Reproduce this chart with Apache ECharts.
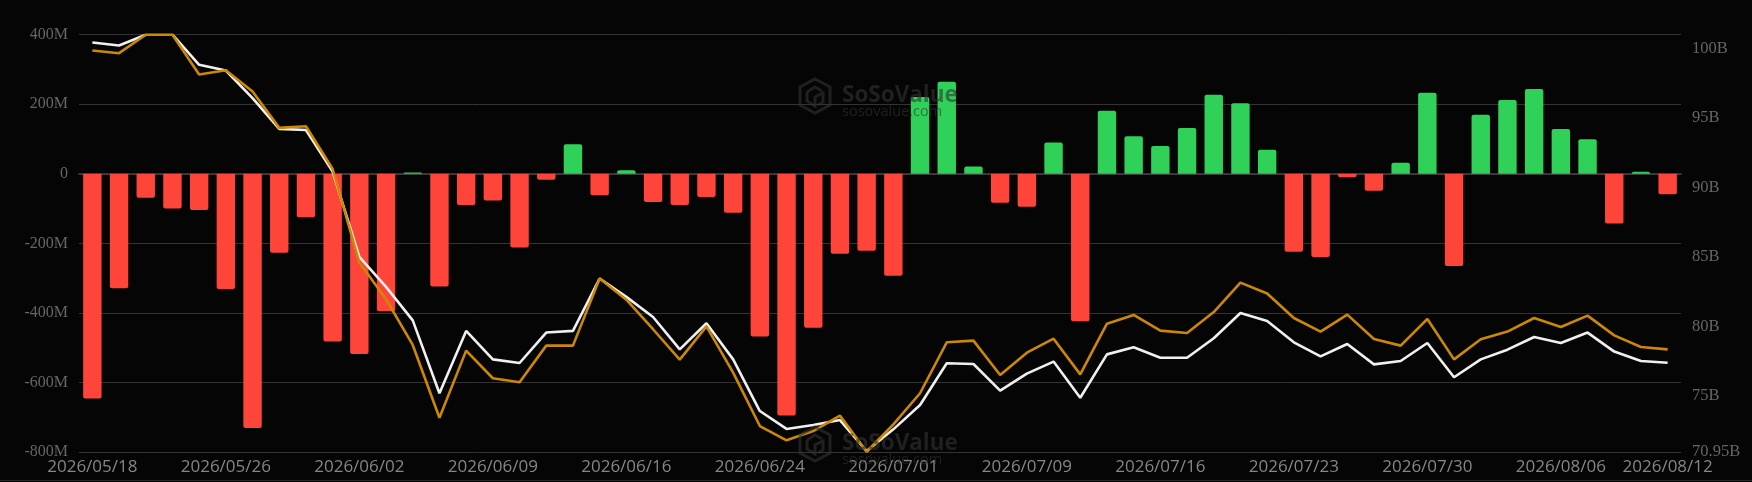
<!DOCTYPE html>
<html><head><meta charset="utf-8">
<style>html,body{margin:0;padding:0;background:#050505}#c{width:1752px;height:482px}</style>
<script src="https://cdn.jsdelivr.net/npm/echarts@6/dist/echarts.min.js"></script>
</head><body><div id="c"></div>
<script>
const dates = ["2026/05/18","2026/05/19","2026/05/20","2026/05/21","2026/05/22","2026/05/26","2026/05/27","2026/05/28","2026/05/29","2026/06/01","2026/06/02","2026/06/03","2026/06/04","2026/06/05","2026/06/08","2026/06/09","2026/06/10","2026/06/11","2026/06/12","2026/06/15","2026/06/16","2026/06/17","2026/06/18","2026/06/22","2026/06/23","2026/06/24","2026/06/25","2026/06/26","2026/06/29","2026/06/30","2026/07/01","2026/07/02","2026/07/06","2026/07/07","2026/07/08","2026/07/09","2026/07/10","2026/07/13","2026/07/14","2026/07/15","2026/07/16","2026/07/17","2026/07/20","2026/07/21","2026/07/22","2026/07/23","2026/07/24","2026/07/27","2026/07/28","2026/07/29","2026/07/30","2026/07/31","2026/08/03","2026/08/04","2026/08/05","2026/08/06","2026/08/07","2026/08/10","2026/08/11","2026/08/12"];
const flows = [-646,-329,-69,-100,-104,-331,-731,-227,-125,-482,-518,-395,4,-324,-90,-77,-212,-17,85,-62,10,-81,-90,-67,-112,-468,-695,-443,-230,-221,-293,221,265,21,-83,-95,90,-424,181,108,80,132,227,203,69,-224,-239,-10,-49,32,233,-265,170,212,244,129,99,-143,6,-59];
const whiteLine = [100.44,100.22,101,101,98.83,98.42,96.43,94.22,94.14,91.14,85.0,82.84,80.43,75.18,79.67,77.62,77.36,79.55,79.67,83.44,82.12,80.67,78.34,80.22,77.62,73.90,72.61,72.89,73.25,71.02,72.58,74.33,77.34,77.29,75.37,76.59,77.46,74.86,77.98,78.49,77.74,77.74,79.14,80.96,80.39,78.85,77.84,78.73,77.26,77.50,78.80,76.33,77.62,78.32,79.23,78.80,79.55,78.18,77.50,77.38];
const orangeLine = [99.86,99.67,101,101,98.13,98.44,96.91,94.29,94.41,91.33,84.59,81.95,78.66,73.42,78.25,76.26,75.97,78.61,78.61,83.44,81.92,79.79,77.60,80.00,76.66,72.82,71.79,72.46,73.57,70.97,72.94,75.18,78.85,78.97,76.50,78.10,79.11,76.54,80.19,80.82,79.69,79.52,81.03,83.15,82.36,80.60,79.62,80.84,79.09,78.61,80.53,77.62,79.07,79.62,80.60,79.95,80.77,79.35,78.51,78.34];
const rightTicks = [70.95,75,80,85,90,95,100];
const RED = "#ff453a", GREEN = "#30d158";

function watermark(cx, cy) {
  const col = "rgba(50,50,50,0.6)";
  const s = 15;
  const hex = [[0,-17],[s,-9],[s,9],[0,17],[-s,9],[-s,-9]];
  const line = (pts) => ({type:"polyline", z:50, silent:true, shape:{points:pts.map(p=>[cx+p[0],cy+p[1]])}, style:{fill:"transparent",stroke:col,lineWidth:3}});
  return [
    {type:"polygon", z:50, silent:true, shape:{points:hex.map(p=>[cx+p[0],cy+p[1]])}, style:{fill:"transparent",stroke:col,lineWidth:3}},
    line([[-8,-4],[0,-9],[7,-5]]),
    line([[-8,-4],[-8,5],[0,10],[0,1],[8,-3],[8,6],[3,9]]),
    {type:"text", z:50, silent:true, x:cx+27, y:cy, style:{text:"SoSoValue",fill:col,font:"bold 22.5px 'Open Sans'",textVerticalAlign:"middle"}},
    {type:"text", z:50, silent:true, x:cx+27, y:cy+16, style:{text:"sosovalue.com",fill:"rgba(50,50,50,0.6)",font:"14.5px 'Open Sans'",textVerticalAlign:"middle"}}
  ];
}

const chart = echarts.init(document.getElementById("c"), null, {renderer:"canvas"});
chart.setOption({
  animation:false,
  backgroundColor:"#050505",
  grid:{left:79,right:71,top:34.7,bottom:30,containLabel:false},
  graphic:{elements:[
    ...watermark(815,96),...watermark(815,444),
    {type:"rect", silent:true, z:1, shape:{x:0,y:480,width:1752,height:1}, style:{fill:"#262626"}}
  ]},
  xAxis:{
    type:"category",data:dates,boundaryGap:true,
    axisLine:{show:true,onZero:true,lineStyle:{color:"#444",width:1.5}},
    axisTick:{show:false},
    axisLabel:{color:"#868686",fontFamily:"'Open Sans'",fontSize:17,margin:7,hideOverlap:false,
      interval:(i)=>i%5===0||i===dates.length-1,
      showMinLabel:true,showMaxLabel:true,
      formatter:v=>v}
  },
  yAxis:[
    {type:"value",min:-800,max:400,interval:200,position:"left",
      axisLine:{show:false},axisTick:{show:false},
      splitLine:{lineStyle:{color:"#333",width:1}},
      axisLabel:{color:"#666",fontFamily:"'Liberation Serif'",fontSize:16,margin:11,
        formatter:v=>v===0?"0":v+"M"}},
    {type:"value",min:70.95,max:101,position:"right",scale:true,
      axisLine:{show:false},axisTick:{show:false},splitLine:{show:false},
      axisLabel:{color:"#666",fontFamily:"'Liberation Serif'",fontSize:16.5,margin:11,
        customValues:rightTicks,formatter:v=>v+"B"}}
  ],
  series:[
    {type:"bar",yAxisIndex:0,barWidth:18.4,z:2,
     data:flows.map(v=>({value:v,itemStyle:{color:v>=0?GREEN:RED,borderRadius:v>=0?[2,2,0,0]:[0,0,2,2]}}))},
    {type:"line",yAxisIndex:1,data:whiteLine,symbol:"none",z:3,lineStyle:{color:"#f0f0f0",width:2.6}},
    {type:"line",yAxisIndex:1,data:orangeLine,symbol:"none",z:4,lineStyle:{color:"#cc8800",width:2.6}}
  ]
});
</script></body></html>
